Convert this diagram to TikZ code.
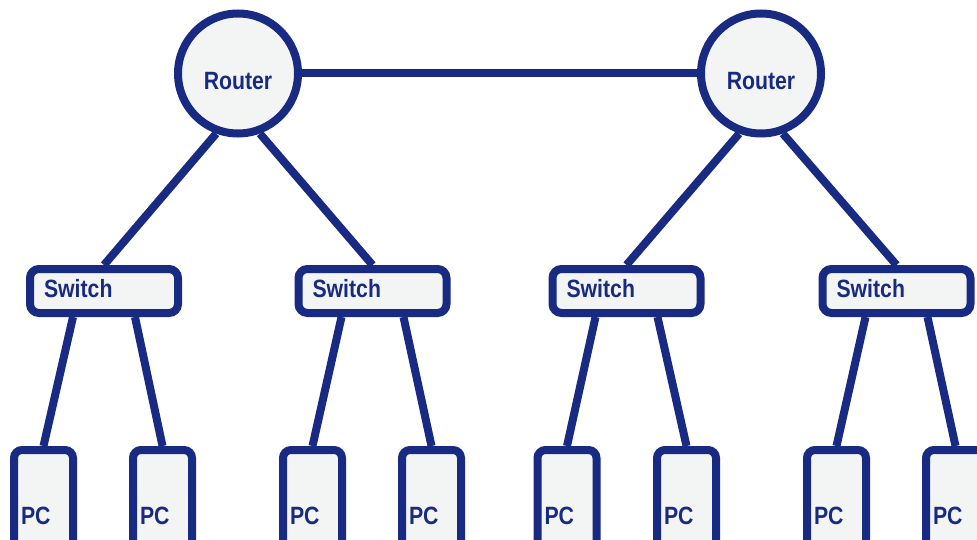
\documentclass[tikz,border=0pt]{standalone}
\usepackage{fontspec}
\newfontfamily\netfont{Liberation Sans}[FakeStretch=0.85]
\usepackage{tikz}
\usetikzlibrary{backgrounds, positioning}
\definecolor{netblue}{RGB}{24,42,130}
\definecolor{netfill}{RGB}{243,245,245}
\tikzset{>=stealth,
  netline/.style={line width=8pt, draw=netblue},
  netnode/.style={netline, fill=netfill, text=netblue, font=\netfont\bfseries\fontsize{25}{29}\selectfont},
  router/.style={netnode, circle, minimum size=120pt, inner sep=0pt, text height=32pt, text depth=0pt},
  switchbox/.style={netnode, rectangle, rounded corners=9pt, minimum height=44pt, text width=120pt, align=left, inner xsep=14pt, inner ysep=0pt, text depth=5pt},
  pcbox/.style={netnode, rectangle, rounded corners=8pt, minimum height=132pt, text width=45pt, align=left, inner xsep=7pt, inner ysep=0pt}
}

\begin{document}
\begin{tikzpicture}[x=1pt, y=-1pt]
\clip (0,0) rectangle (977,540);

\node[router] (r1) at (238,73.5) {Router};
\node[router] (r2) at (761,73.5) {Router};

\foreach \i/\x in {1/104, 2/372.5, 3/626.5, 4/896.5}
  \node[switchbox] (sw\i) at (\x,291) {Switch};

\foreach \i/\x in {1/43.5, 2/162.5, 3/312.5, 4/431.5, 5/567, 6/686.5, 7/836.5, 8/955.5}
  \node[pcbox] (pc\i) at (\x,516) {PC};

\begin{scope}[on background layer]
\draw[netline] (r1) -- (r2);
\draw[netline] (r1.250) -- (sw1.north);
\draw[netline] (r1.290) -- (sw2.north);
\draw[netline] (r2.250) -- (sw3.north);
\draw[netline] (r2.290) -- (sw4.north);
\foreach \s/\a/\b in {1/1/2, 2/3/4, 3/5/6, 4/7/8} {
  \draw[netline] ([xshift=-31pt]sw\s.south) -- (pc\a.north);
  \draw[netline] ([xshift=31pt]sw\s.south) -- (pc\b.north);
}
\end{scope}
\end{tikzpicture}
\end{document}
